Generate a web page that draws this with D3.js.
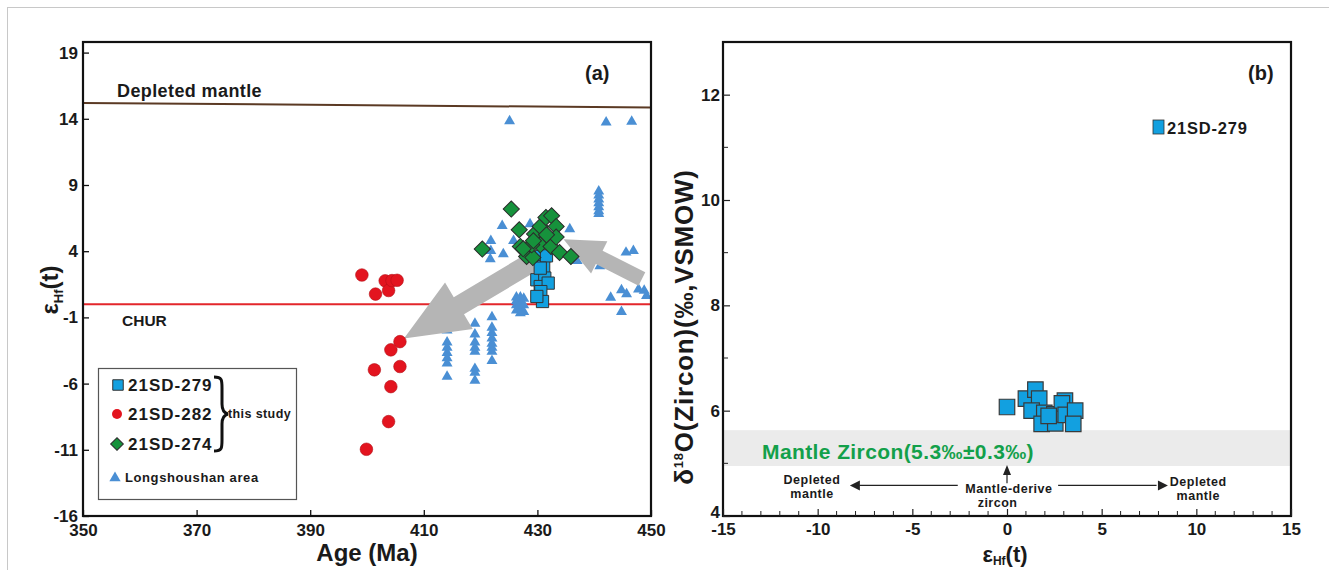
<!DOCTYPE html>
<html><head><meta charset="utf-8">
<script src="https://cdn.jsdelivr.net/npm/d3@7"></script>
<style>
body{margin:0;background:#fff;}
text{font-family:"Liberation Sans",Arial,sans-serif;font-weight:bold;fill:#1a1a1a;}
</style></head>
<body><svg id="c" width="1329" height="570"></svg>
<script>
// ---------- DATA ----------
// Panel (a): Age (Ma) vs eHf(t)
const ageTicks = [350, 370, 390, 410, 430, 450];
const ehfTicks = [19, 14, 9, 4, -1, -6, -11, -16];
const s279Age = [430.7, 431.1, 429.9, 431.3, 430.5, 431.9, 430.6, 430.9, 429.9, 431.6, 430.5];
const s279Ehf = [3.6, 2.84, 1.84, 1.97, 1.33, 1.59, 0.95, 0.2, 0.58, 3.65, 2.72];
const s282Age = [399.1, 401.5, 403.2, 403.8, 404.4, 405.3, 405.8, 404.2, 401.3, 405.8, 404.2, 403.8, 399.9];
const s282Ehf = [2.2, 0.76, 1.76, 1.03, 1.78, 1.8, -2.83, -3.45, -4.96, -4.71, -6.23, -8.87, -10.96];
const s274Age = [425.4, 420.3, 426.8, 427, 428.1, 429.2, 429.5, 430.5, 431.5, 432.5, 433.3, 430.5, 432.4, 433.3, 433.9, 435.9, 429, 427.5, 429.3, 431.6];
const s274Ehf = [7.18, 4.16, 5.62, 4.36, 3.6, 3.52, 5.3, 5.87, 6.55, 6.67, 5.87, 4.48, 4.36, 5.07, 3.9, 3.6, 4.48, 4.18, 4.79, 5.24];
const lssAge = [425.1, 442.1, 446.6,
  440.8, 440.8, 440.8, 440.8, 440.8, 440.8, 440.8, 441.0,
  445.6, 446.9,
  442.9, 444.8, 445.7, 447.8, 448.8, 449.2, 444.8,
  426.3, 426.3, 426.3, 426.3, 427.0, 427.0, 427.0, 427.0, 427.6, 427.6, 427.6,
  414.1, 414.1, 414.1, 414.1, 414.1, 414.1, 414.1,
  419.0, 419.0, 419.0, 419.0, 419.0, 419.0, 419.0, 419.0,
  422.0, 422.0, 422.0, 422.0, 422.0, 422.0, 422.0, 422.0,
  423.8, 421.8, 421.8, 421.7, 424.0, 425.8, 428.7, 435.7, 437.0, 431.0, 436.9, 429.8];
const lssEhf = [13.9, 13.8, 13.86,
  8.6, 8.3, 8.0, 7.7, 7.4, 7.1, 6.9, 2.95,
  3.98, 4.1,
  0.58, 1.13, 0.83, 1.2, 1.1, 0.7, -0.5,
  0.6, 0.3, 0.0, -0.4, 0.6, 0.2, -0.2, -0.6, 0.5, 0.0, -0.5,
  -1.9, -2.8, -3.2, -3.6, -4.0, -4.4, -5.4,
  -1.4, -2.2, -2.8, -3.2, -3.5, -4.8, -5.1, -5.7,
  -0.9, -1.7, -2.1, -2.5, -2.9, -3.2, -3.5, -4.2,
  6.0, 4.86, 4.1, 3.48, 3.86, 4.86, 6.12, 5.75, 3.35, 3.35, 4.3, 3.9];
const dmAge = [350, 450];
const dmEhf = [15.2, 14.85];
const churEhf = 0;

// Panel (b): eHf(t) vs d18O
const hfTicksB = [-15, -10, -5, 0, 5, 10, 15];
const oTicksB = [4, 6, 8, 10, 12];
const b279Ehf = [0.0, 1.0, 1.5, 1.7, 1.3, 1.97, 1.83, 2.55, 2.5, 3.06, 2.9, 3.1, 3.6, 3.5, 2.2];
const b279O = [6.07, 6.23, 6.40, 6.23, 6.0, 5.96, 5.75, 5.76, 5.93, 6.19, 6.14, 5.92, 6.0, 5.75, 5.9];
const mantleBand = [4.95, 5.63];

// ---------- DRAW ----------
const svg = d3.select("#c");
svg.append("rect").attr("x", 7.5).attr("y", 7.5).attr("width", 1330).attr("height", 580)
  .attr("fill", "none").attr("stroke", "#c8c8c8").attr("stroke-width", 1);

const A = {l: 83, r: 651, t: 42, b: 516};
const B = {l: 723, r: 1291, t: 42, b: 516};
const xa = d3.scaleLinear().domain([350, 450]).range([A.l, A.r]);
const ya = d3.scaleLinear().domain([-16, 19.8]).range([A.b, A.t]);
const xb = d3.scaleLinear().domain([-15, 15]).range([B.l, B.r]);
const yb = d3.scaleLinear().domain([4, 13]).range([B.b, B.t]);
const fmt = d => String(d);

function arrowPoly(p0, p1, w, hw, hl) {
  const dx = p1[0] - p0[0], dy = p1[1] - p0[1], L = Math.hypot(dx, dy);
  const ux = dx / L, uy = dy / L, nx = -uy, ny = ux;
  const bx = p1[0] - ux * hl, by = p1[1] - uy * hl;
  return [[p0[0] + nx * w, p0[1] + ny * w], [bx + nx * w, by + ny * w], [bx + nx * hw, by + ny * hw], p1,
    [bx - nx * hw, by - ny * hw], [bx - nx * w, by - ny * w], [p0[0] - nx * w, p0[1] - ny * w]];
}

// ===== Panel A =====
const gA = svg.append("g");
gA.append("line").attr("x1", xa(dmAge[0])).attr("x2", xa(dmAge[1])).attr("y1", ya(dmEhf[0])).attr("y2", ya(dmEhf[1]))
  .attr("stroke", "#5b3a24").attr("stroke-width", 2);
gA.append("line").attr("x1", A.l).attr("x2", A.r).attr("y1", ya(churEhf)).attr("y2", ya(churEhf))
  .attr("stroke", "#e3262b").attr("stroke-width", 2);

const tri = d3.symbol().type(d3.symbolTriangle).size(52);
gA.append("g").selectAll("path").data(lssAge).join("path")
  .attr("transform", (d, i) => `translate(${xa(d)},${ya(lssEhf[i]) + 1})`)
  .attr("d", tri).attr("fill", "#4a8fd4");

const ar1 = arrowPoly([xa(431.5), ya(3.8)], [xa(406.5), ya(-2.6)], 10, 27, 64);
const ar2 = arrowPoly([xa(448.4), ya(1.9)], [xa(434.6), ya(4.9)], 7.5, 18, 40);
[ar1, ar2].forEach(p => gA.append("path").attr("d", "M" + p.join("L") + "Z").attr("fill", "#b5b5b5"));

const sqA = d3.symbol().type(d3.symbolSquare).size(150);
gA.append("g").selectAll("path").data(s279Age).join("path")
  .attr("transform", (d, i) => `translate(${xa(d)},${ya(s279Ehf[i])})`)
  .attr("d", sqA).attr("fill", "#12a0e0").attr("stroke", "#333").attr("stroke-width", 1);
const dia = d3.symbol().type(d3.symbolSquare).size(130);
gA.append("g").selectAll("path").data(s274Age).join("path")
  .attr("transform", (d, i) => `translate(${xa(d)},${ya(s274Ehf[i])}) rotate(45)`)
  .attr("d", dia).attr("fill", "#16923c").attr("stroke", "#2b2b2b").attr("stroke-width", 1);
gA.append("g").selectAll("circle").data(s282Age).join("circle")
  .attr("cx", d => xa(d)).attr("cy", (d, i) => ya(s282Ehf[i])).attr("r", 6.3)
  .attr("fill", "#e3141f").attr("stroke", "#b31017").attr("stroke-width", 0.6);

gA.append("rect").attr("x", A.l).attr("y", A.t).attr("width", A.r - A.l).attr("height", A.b - A.t)
  .attr("fill", "none").attr("stroke", "#111").attr("stroke-width", 2.2);
const axYA = d3.axisLeft(ya).tickValues(ehfTicks).tickSize(-6).tickPadding(5).tickFormat(fmt);
const gya = gA.append("g").attr("transform", `translate(${A.l},0)`).call(axYA);
const axXA = d3.axisBottom(xa).tickValues(ageTicks).tickSize(-6).tickPadding(5).tickFormat(fmt);
const gxa = gA.append("g").attr("transform", `translate(0,${A.b})`).call(axXA);
[gya, gxa].forEach(g => {
  g.select(".domain").remove();
  g.selectAll(".tick line").attr("stroke", "#111").attr("stroke-width", 1.3);
  g.selectAll("text").attr("font-size", 17).attr("fill", "#1a1a1a").attr("font-family", "Liberation Sans, Arial").attr("font-weight", "bold");
});
gxa.selectAll("text").attr("dy", "0.9em");

gA.append("text").attr("x", 117).attr("y", 97).attr("font-size", 18).attr("letter-spacing", 0.4).text("Depleted mantle");
gA.append("text").attr("x", 122).attr("y", 326).attr("font-size", 15.5).text("CHUR");
gA.append("text").attr("x", 585).attr("y", 80).attr("font-size", 20).text("(a)");
gA.append("text").attr("x", 367).attr("y", 561).attr("text-anchor", "middle").attr("font-size", 24).text("Age (Ma)");
const tya = gA.append("text").attr("transform", "translate(58,290) rotate(-90)").attr("text-anchor", "middle").attr("font-size", 24);
tya.append("tspan").text("ε");
tya.append("tspan").attr("font-size", 13).attr("dy", 5).text("Hf");
tya.append("tspan").attr("dy", -5).text("(t)");

// legend A
const lg = gA.append("g");
lg.append("rect").attr("x", 98.5).attr("y", 368.5).attr("width", 198).attr("height", 131)
  .attr("fill", "#fff").attr("stroke", "#555").attr("stroke-width", 1.2);
const legNames = ["21SD-279", "21SD-282", "21SD-274"];
const legY = [385, 414, 444];
lg.append("path").attr("transform", `translate(118,${legY[0]})`).attr("d", d3.symbol().type(d3.symbolSquare).size(110))
  .attr("fill", "#12a0e0").attr("stroke", "#333");
lg.append("circle").attr("cx", 117).attr("cy", legY[1]).attr("r", 5).attr("fill", "#e3141f");
lg.append("path").attr("transform", `translate(117,${legY[2]}) rotate(45)`).attr("d", d3.symbol().type(d3.symbolSquare).size(80))
  .attr("fill", "#16923c").attr("stroke", "#2b2b2b");
legNames.forEach((n, i) => lg.append("text").attr("x", 128).attr("y", legY[i] + 6).attr("font-size", 17).attr("letter-spacing", 1).text(n));
lg.append("path").attr("transform", "translate(115,478)").attr("d", d3.symbol().type(d3.symbolTriangle).size(55)).attr("fill", "#4a8fd4");
lg.append("text").attr("x", 125).attr("y", 482).attr("font-size", 13).attr("letter-spacing", 0.6).text("Longshoushan area");
lg.append("path").attr("d", "M214,377 C222,377 222,380 222,388 L222,404 C222,410 224,413 228,414 C224,415 222,418 222,424 L222,440 C222,448 222,451 214,451")
  .attr("fill", "none").attr("stroke", "#111").attr("stroke-width", 3);
lg.append("text").attr("x", 228).attr("y", 418).attr("font-size", 12.5).attr("letter-spacing", 0.4).text("this study");

// ===== Panel B =====
const gB = svg.append("g");
gB.append("rect").attr("x", B.l).attr("width", B.r - B.l).attr("y", yb(mantleBand[1])).attr("height", yb(mantleBand[0]) - yb(mantleBand[1]))
  .attr("fill", "#ebebeb");
const sqB = d3.symbol().type(d3.symbolSquare).size(240);
gB.append("g").selectAll("path").data(b279Ehf).join("path")
  .attr("transform", (d, i) => `translate(${xb(d)},${yb(b279O[i])})`)
  .attr("d", sqB).attr("fill", "#12a0e0").attr("stroke", "#3a3a3a").attr("stroke-width", 1.2);

gB.append("rect").attr("x", B.l).attr("y", B.t).attr("width", B.r - B.l).attr("height", B.b - B.t)
  .attr("fill", "none").attr("stroke", "#111").attr("stroke-width", 2.2);
const minorX = d3.range(-14, 15, 1).filter(v => v % 5 !== 0);
gB.append("g").selectAll("line").data(minorX).join("line")
  .attr("x1", d => xb(d)).attr("x2", d => xb(d)).attr("y1", B.b).attr("y2", B.b - 5)
  .attr("stroke", "#222").attr("stroke-width", 1);
const minorY = [5, 7, 9, 11];
gB.append("g").selectAll("line").data(minorY).join("line")
  .attr("x1", B.l).attr("x2", B.l + 5).attr("y1", d => yb(d)).attr("y2", d => yb(d))
  .attr("stroke", "#222").attr("stroke-width", 1);
const gxb = gB.append("g").attr("transform", `translate(0,${B.b})`)
  .call(d3.axisBottom(xb).tickValues(hfTicksB).tickSize(-7).tickPadding(4).tickFormat(fmt));
const gyb = gB.append("g").attr("transform", `translate(${B.l},0)`)
  .call(d3.axisLeft(yb).tickValues(oTicksB).tickSize(-7).tickPadding(3).tickFormat(fmt));
[gxb, gyb].forEach(g => {
  g.select(".domain").remove();
  g.selectAll(".tick line").attr("stroke", "#222").attr("stroke-width", 1.2);
  g.selectAll("text").attr("font-size", 17).attr("fill", "#1a1a1a").attr("font-family", "Liberation Sans, Arial").attr("font-weight", "bold");
});
gxb.selectAll("text").attr("dy", "0.9em");
gyb.selectAll(".tick text").filter(d => d === 4).attr("dy", "0.1em");

gB.append("text").attr("x", 1248).attr("y", 80).attr("font-size", 20).text("(b)");
gB.append("rect").attr("x", 1153).attr("y", 120).attr("width", 11).attr("height", 14).attr("fill", "#12a0e0").attr("stroke", "#333").attr("stroke-width", 0.8);
gB.append("text").attr("x", 1167).attr("y", 134).attr("font-size", 16.5).attr("letter-spacing", 0.8).text("21SD-279");

gB.append("text").attr("x", 762).attr("y", 459).attr("font-size", 21).attr("letter-spacing", 0.4).style("fill", "#13a04a").text("Mantle Zircon(5.3‰±0.3‰)");

const ann = gB.append("g").attr("fill", "#222").attr("stroke", "#222");
ann.append("line").attr("x1", xb(-2.6)).attr("x2", xb(-7.8)).attr("y1", yb(4.58)).attr("y2", yb(4.58)).attr("stroke-width", 1.2);
ann.append("path").attr("d", `M${xb(-8.3)},${yb(4.58)} l10,-5 l0,10 Z`).attr("stroke", "none");
ann.append("line").attr("x1", xb(2.7)).attr("x2", xb(7.9)).attr("y1", yb(4.58)).attr("y2", yb(4.58)).attr("stroke-width", 1.2);
ann.append("path").attr("d", `M${xb(8.5)},${yb(4.58)} l-10,-5 l0,10 Z`).attr("stroke", "none");
ann.append("line").attr("x1", xb(0)).attr("x2", xb(0)).attr("y1", yb(4.62)).attr("y2", yb(4.85)).attr("stroke-width", 1.2);
ann.append("path").attr("d", `M${xb(0)},${yb(4.97)} l-4,10 l8,0 Z`).attr("stroke", "none");
const small = (x, y, t) => gB.append("text").attr("x", x).attr("y", y).attr("text-anchor", "middle").attr("font-size", 12.5).attr("letter-spacing", 0.5).attr("fill", "#2a2a2a").text(t);
small(xb(-10.3), 484, "Depleted");
small(xb(-10.3), 498, "mantle");
small(xb(10.1), 486, "Depleted");
small(xb(10.1), 500, "mantle");
small(xb(0.1), 493, "Mantle-derive");
small(xb(-0.5), 507, "zircon");

gB.append("text").attr("x", 1005).attr("y", 562).attr("text-anchor", "middle").attr("font-size", 22)
  .call(t => { t.append("tspan").text("ε"); t.append("tspan").attr("font-size", 12).attr("dy", 3).text("Hf"); t.append("tspan").attr("dy", -3).text("(t)"); });
const tyb = gB.append("text").attr("transform", "translate(693,327) rotate(-90)").attr("text-anchor", "middle").attr("font-size", 26).attr("letter-spacing", 0.8);
tyb.append("tspan").text("δ");
tyb.append("tspan").attr("font-size", 13).attr("dy", -10).text("18");
tyb.append("tspan").attr("dy", 10).text("O(Zircon)(‰,VSMOW)");
</script></body></html>
